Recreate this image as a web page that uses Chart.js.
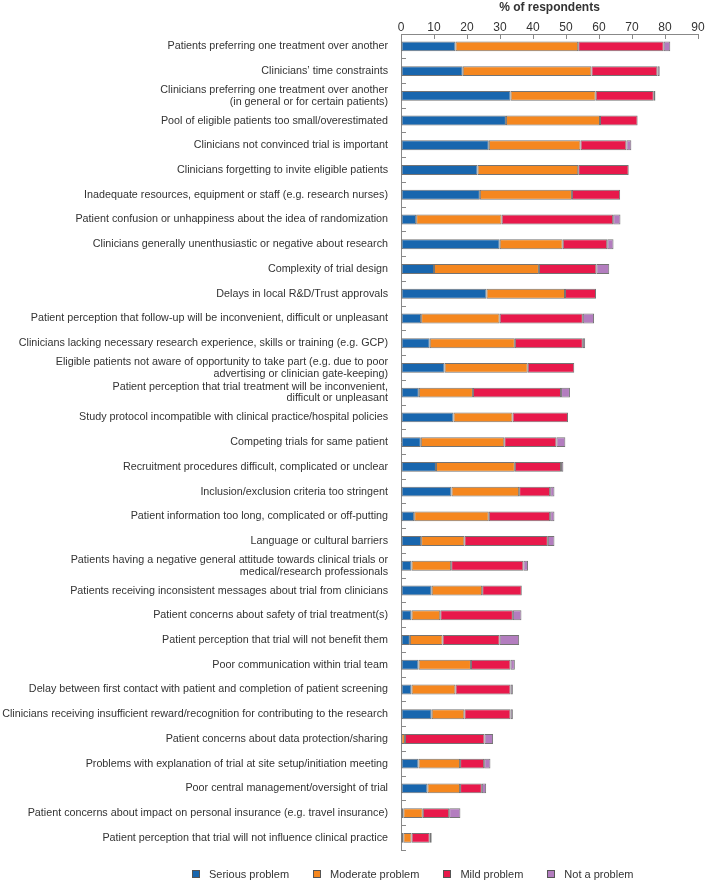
<!DOCTYPE html>
<html>
<head>
<meta charset="utf-8">
<script src="https://cdn.jsdelivr.net/npm/chart.js@4"></script>
<style>
  body { margin: 0; background: #fff; font-family: "Liberation Sans", Arial, sans-serif; }
  #wrap { position: relative; width: 709px; height: 880px; }
  #box { position: absolute; left: 0; top: 0; width: 709px; height: 874px; }
  #legend { position: absolute; left: 192px; top: 867px; display: flex; font-size: 11px; color: #333; line-height: 14px; }
  #legend .item { display: flex; align-items: center; margin-right: 24px; }
  #legend .sw { width: 6px; height: 6px; border: 1px solid #555; margin-right: 9px; }
</style>
</head>
<body>
<div id="wrap">
  <div id="box"><canvas id="chart"></canvas></div>
  <div id="legend"></div>
</div>
<script>
// Kategorien (von oben nach unten)
const categories = [
    'Patients preferring one treatment over another',
    'Clinicians’ time constraints',
    ['Clinicians preferring one treatment over another', '(in general or for certain patients)'],
    'Pool of eligible patients too small/overestimated',
    'Clinicians not convinced trial is important',
    'Clinicians forgetting to invite eligible patients',
    'Inadequate resources, equipment or staff (e.g. research nurses)',
    'Patient confusion or unhappiness about the idea of randomization',
    'Clinicians generally unenthusiastic or negative about research',
    'Complexity of trial design',
    'Delays in local R&D/Trust approvals',
    'Patient perception that follow-up will be inconvenient, difficult or unpleasant',
    'Clinicians lacking necessary research experience, skills or training (e.g. GCP)',
    ['Eligible patients not aware of opportunity to take part (e.g. due to poor', 'advertising or clinician gate-keeping)'],
    ['Patient perception that trial treatment will be inconvenient,', 'difficult or unpleasant'],
    'Study protocol incompatible with clinical practice/hospital policies',
    'Competing trials for same patient',
    'Recruitment procedures difficult, complicated or unclear',
    'Inclusion/exclusion criteria too stringent',
    'Patient information too long, complicated or off-putting',
    'Language or cultural barriers',
    ['Patients having a negative general attitude towards clinical trials or', 'medical/research professionals'],
    'Patients receiving inconsistent messages about trial from clinicians',
    'Patient concerns about safety of trial treatment(s)',
    'Patient perception that trial will not benefit them',
    'Poor communication within trial team',
    'Delay between first contact with patient and completion of patient screening',
    'Clinicians receiving insufficient reward/recognition for contributing to the research',
    'Patient concerns about data protection/sharing',
    'Problems with explanation of trial at site setup/initiation meeting',
    'Poor central management/oversight of trial',
    'Patient concerns about impact on personal insurance (e.g. travel insurance)',
    'Patient perception that trial will not influence clinical practice'
];

// % der Befragten je Stufe
const serious = [16.5, 18.7, 33.2, 31.8, 26.6, 23.2, 23.9, 4.6, 29.9, 10.0, 25.9, 6.1, 8.7, 13.2, 5.4, 15.9, 6.0,
                 10.6, 15.3, 4.0, 6.1, 3.2, 9.3, 3.2, 2.7, 5.3, 3.2, 9.3, 0, 5.3, 8.0, 0.7, 0.7];
const moderate = [37.2, 39.0, 25.8, 28.5, 27.8, 30.5, 27.9, 25.9, 19.1, 31.8, 23.8, 23.8, 25.8, 25.2, 16.4, 17.9, 25.3,
                  23.9, 20.5, 22.6, 13.1, 12.0, 15.3, 8.7, 9.9, 15.9, 13.3, 9.9, 1.2, 12.6, 9.9, 5.9, 2.5];
const mild = [25.9, 20.0, 17.6, 11.4, 13.9, 15.3, 14.6, 33.8, 13.5, 17.4, 9.4, 25.2, 20.6, 14.1, 26.7, 16.8, 15.8,
              14.0, 9.4, 18.6, 25.3, 21.9, 12.0, 22.0, 17.3, 12.0, 16.7, 14.0, 24.1, 7.3, 6.6, 8.0, 5.5];
const notProblem = [2.0, 0.7, 0.5, 0, 1.5, 0, 0, 2.2, 1.9, 3.9, 0, 3.4, 0.7, 0, 2.7, 0, 2.7,
                    0.7, 1.3, 1.3, 2.0, 1.4, 0, 2.6, 5.9, 1.3, 0.7, 0.7, 2.6, 1.9, 1.3, 3.4, 0.6];

const seriesNames = ['Serious problem', 'Moderate problem', 'Mild problem', 'Not a problem'];
const seriesColors = ['#1866ae', '#f5871f', '#e8194b', '#b37dbf'];
const xTicks = [0, 10, 20, 30, 40, 50, 60, 70, 80, 90];

const seriesData = [serious, moderate, mild, notProblem];

const datasets = seriesNames.map((name, i) => ({
    label: name,
    data: seriesData[i],
    backgroundColor: seriesColors[i],
    borderColor: 'rgba(70,70,70,0.75)',
    borderWidth: 1,
    borderSkipped: false,
    categoryPercentage: 1,
    barPercentage: 0.4
}));

new Chart(document.getElementById('chart'), {
    type: 'bar',
    data: { labels: categories, datasets },
    options: {
        indexAxis: 'y',
        responsive: true,
        maintainAspectRatio: false,
        animation: false,
        layout: { padding: { left: 0, right: 11, top: 0, bottom: 11 } },
        plugins: {
            legend: { display: false },
            tooltip: { enabled: false }
        },
        scales: {
            x: {
                position: 'top',
                stacked: true,
                min: 0,
                max: 90,
                afterBuildTicks: (scale) => { scale.ticks = xTicks.map(v => ({ value: v })); },
                afterFit: (scale) => { scale.height = 34; },
                ticks: { color: '#333', font: { family: 'Liberation Sans', size: 12 }, padding: 4 },
                grid: { drawOnChartArea: false, tickLength: -5, color: '#888', tickColor: '#888' },
                border: { color: '#888', width: 1 },
                title: {
                    display: true,
                    text: '% of respondents',
                    color: '#333',
                    font: { family: 'Liberation Sans', size: 12, weight: 'bold' },
                    padding: { top: 0, bottom: 0 }
                }
            },
            y: {
                stacked: true,
                afterFit: (scale) => { scale.width = 401; },
                ticks: {
                    color: '#333',
                    font: { family: 'Liberation Sans', size: 10.75, lineHeight: 1.07 },
                    padding: 18,
                    autoSkip: false
                },
                grid: { drawOnChartArea: false, offset: true, tickLength: -5, color: '#888', tickColor: '#888' },
                border: { color: '#888', width: 1 }
            }
        }
    }
});

// Legende
const legendEl = document.getElementById('legend');
seriesNames.forEach((name, i) => {
    const item = document.createElement('div');
    item.className = 'item';
    const sw = document.createElement('span');
    sw.className = 'sw';
    sw.style.background = seriesColors[i];
    const txt = document.createElement('span');
    txt.textContent = name;
    item.appendChild(sw);
    item.appendChild(txt);
    legendEl.appendChild(item);
});
</script>
</body>
</html>
